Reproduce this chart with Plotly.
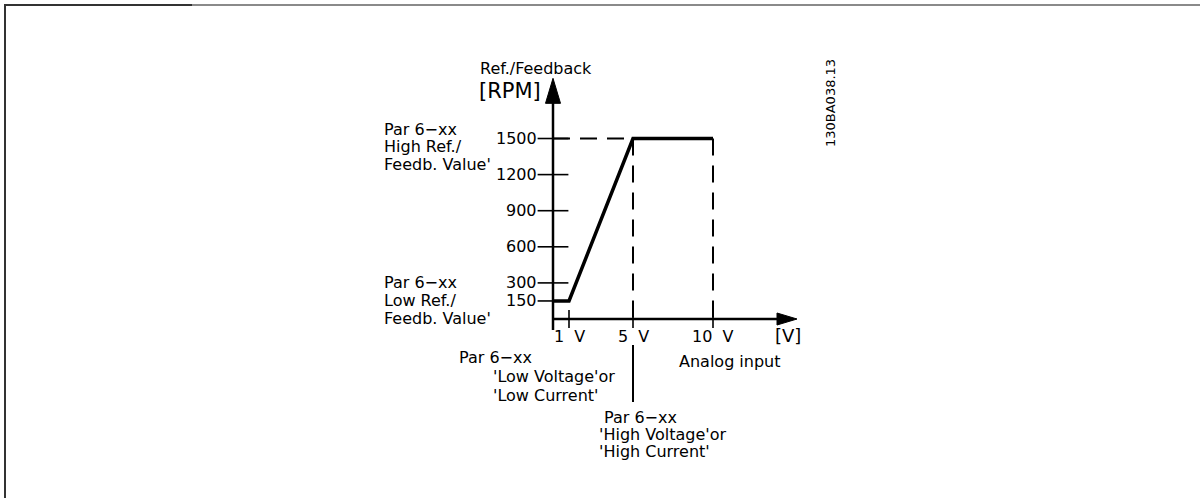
import plotly.graph_objects as go

# Transfer characteristic: analog input [V] -> reference / feedback [RPM]
input_volts = [0, 1, 5, 10]
output_rpm = [150, 150, 1500, 1500]

y_tick_values = [150, 300, 600, 900, 1200, 1500]
y_tick_labels = ["150", "300", "600", "900", "1200", "1500"]
x_tick_values = [1, 5, 10]
x_tick_labels = ["1\u00a0\u00a0V", "5\u00a0\u00a0V", "10\u00a0\u00a0V"]

low_v, high_v, end_v = 1, 5, 10
high_rpm = 1500
y_axis_top = 2000      # arrow tip of the RPM axis
x_axis_end = 15.25     # arrow tip of the voltage axis

W, H = 1200, 498
X0_PX, PX_PER_V = 553, 16.0
Y0_PX, PX_PER_RPM = 319, 0.12033

FONT = "DejaVu Sans"
INK = "black"
TXT = 16

x_range = [(0 - X0_PX) / PX_PER_V, (W - X0_PX) / PX_PER_V]
y_range = [(Y0_PX - H) / PX_PER_RPM, Y0_PX / PX_PER_RPM]


def dv(px):
    return px / PX_PER_V


def dr(px):
    return px / PX_PER_RPM


fig = go.Figure()

# dashed guide lines
for gx, gy in (([0, high_v], [high_rpm, high_rpm]),
               ([high_v, high_v], [high_rpm, 0]),
               ([end_v, end_v], [high_rpm, 0])):
    fig.add_trace(go.Scatter(x=gx, y=gy, mode="lines",
                             line=dict(color=INK, width=2, dash="17px,10px"),
                             hoverinfo="skip"))

# axes lines
fig.add_trace(go.Scatter(x=[0, 0], y=[-dr(11), y_axis_top - dr(20)], mode="lines",
                         line=dict(color=INK, width=2.5), hoverinfo="skip"))
fig.add_trace(go.Scatter(x=[0, x_axis_end - dv(16)], y=[0, 0], mode="lines",
                         line=dict(color=INK, width=2.5), hoverinfo="skip"))

# arrow heads
fig.add_trace(go.Scatter(
    x=[0, -dv(7.5), dv(7.5), 0],
    y=[y_axis_top, y_axis_top - dr(25), y_axis_top - dr(25), y_axis_top],
    mode="lines", fill="toself", fillcolor=INK, line=dict(color=INK, width=1),
    hoverinfo="skip"))
fig.add_trace(go.Scatter(
    x=[x_axis_end, x_axis_end - dv(20), x_axis_end - dv(20), x_axis_end],
    y=[0, dr(6), -dr(6), 0],
    mode="lines", fill="toself", fillcolor=INK, line=dict(color=INK, width=1),
    hoverinfo="skip"))

# tick marks crossing the axes
fig.add_trace(go.Scatter(x=[0] * len(y_tick_values), y=y_tick_values, mode="markers",
                         marker=dict(symbol="line-ew", size=22,
                                     line=dict(color=INK, width=1.6)),
                         hoverinfo="skip"))
fig.add_trace(go.Scatter(x=x_tick_values, y=[0] * len(x_tick_values), mode="markers",
                         marker=dict(symbol="line-ns", size=13,
                                     line=dict(color=INK, width=1.6)),
                         hoverinfo="skip"))

# leader line from the 5 V point to its description
fig.add_trace(go.Scatter(x=[high_v, high_v], y=[-dr(26), -dr(83)], mode="lines",
                         line=dict(color=INK, width=2), hoverinfo="skip"))

# characteristic curve
fig.add_trace(go.Scatter(x=input_volts, y=output_rpm, mode="lines",
                         line=dict(color=INK, width=3.5), hoverinfo="skip"))

ann = []

# y tick labels
for v, t in zip(y_tick_values, y_tick_labels):
    ann.append(dict(x=0, y=v, xref="x", yref="y", text=t, showarrow=False,
                    xanchor="right", yanchor="middle", xshift=-14,
                    font=dict(family=FONT, size=TXT, color=INK)))

# x tick labels
for v, t in zip(x_tick_values, x_tick_labels):
    ann.append(dict(x=v, y=0, xref="x", yref="y", text=t, showarrow=False,
                    xanchor="center", yanchor="middle", yshift=-17,
                    font=dict(family=FONT, size=TXT, color=INK)))


def ptext(px, py, text, size=TXT, anchor="left", angle=0):
    ann.append(dict(x=px / W, y=1 - py / H, xref="paper", yref="paper",
                    text=text, showarrow=False, xanchor=anchor, yanchor="middle",
                    textangle=angle, font=dict(family=FONT, size=size, color=INK)))


ptext(478, 68, "Ref./Feedback")
ptext(477, 91, "[RPM]", size=21)
ptext(788, 335, "[V]", size=18, anchor="center")
ptext(730, 361, "Analog input", anchor="center")

ptext(382, 129, "Par 6\u2212xx")
ptext(382, 146, "High Ref./")
ptext(382, 164, "Feedb. Value'")

ptext(382, 282, "Par 6\u2212xx")
ptext(382, 300, "Low Ref./")
ptext(382, 318, "Feedb. Value'")

ptext(457, 357, "Par 6\u2212xx")
ptext(491, 376, "'Low Voltage'or")
ptext(491, 395, "'Low Current'")

ptext(602, 417, "Par 6\u2212xx")
ptext(597, 434, "'High Voltage'or")
ptext(597, 451, "'High Current'")

ptext(830, 103, "130BA038.13", size=13, anchor="center", angle=-90)

shapes = [
    dict(type="line", xref="paper", yref="paper", x0=5 / W, x1=1, y0=1 - 5 / H, y1=1 - 5 / H,
         line=dict(color="#8a8a8a", width=2)),
    dict(type="line", xref="paper", yref="paper", x0=4 / W, x1=192 / W, y0=1 - 5 / H, y1=1 - 5 / H,
         line=dict(color="#333333", width=2)),
    dict(type="line", xref="paper", yref="paper", x0=5 / W, x1=5 / W, y0=0, y1=1 - 4 / H,
         line=dict(color="#333333", width=2)),
]

fig.update_layout(
    width=W, height=H,
    margin=dict(l=0, r=0, t=0, b=0),
    paper_bgcolor="white", plot_bgcolor="white",
    showlegend=False,
    xaxis=dict(range=x_range, visible=False, fixedrange=True),
    yaxis=dict(range=y_range, visible=False, fixedrange=True),
    annotations=ann,
    shapes=shapes,
)

fig.write_html("out.html")
